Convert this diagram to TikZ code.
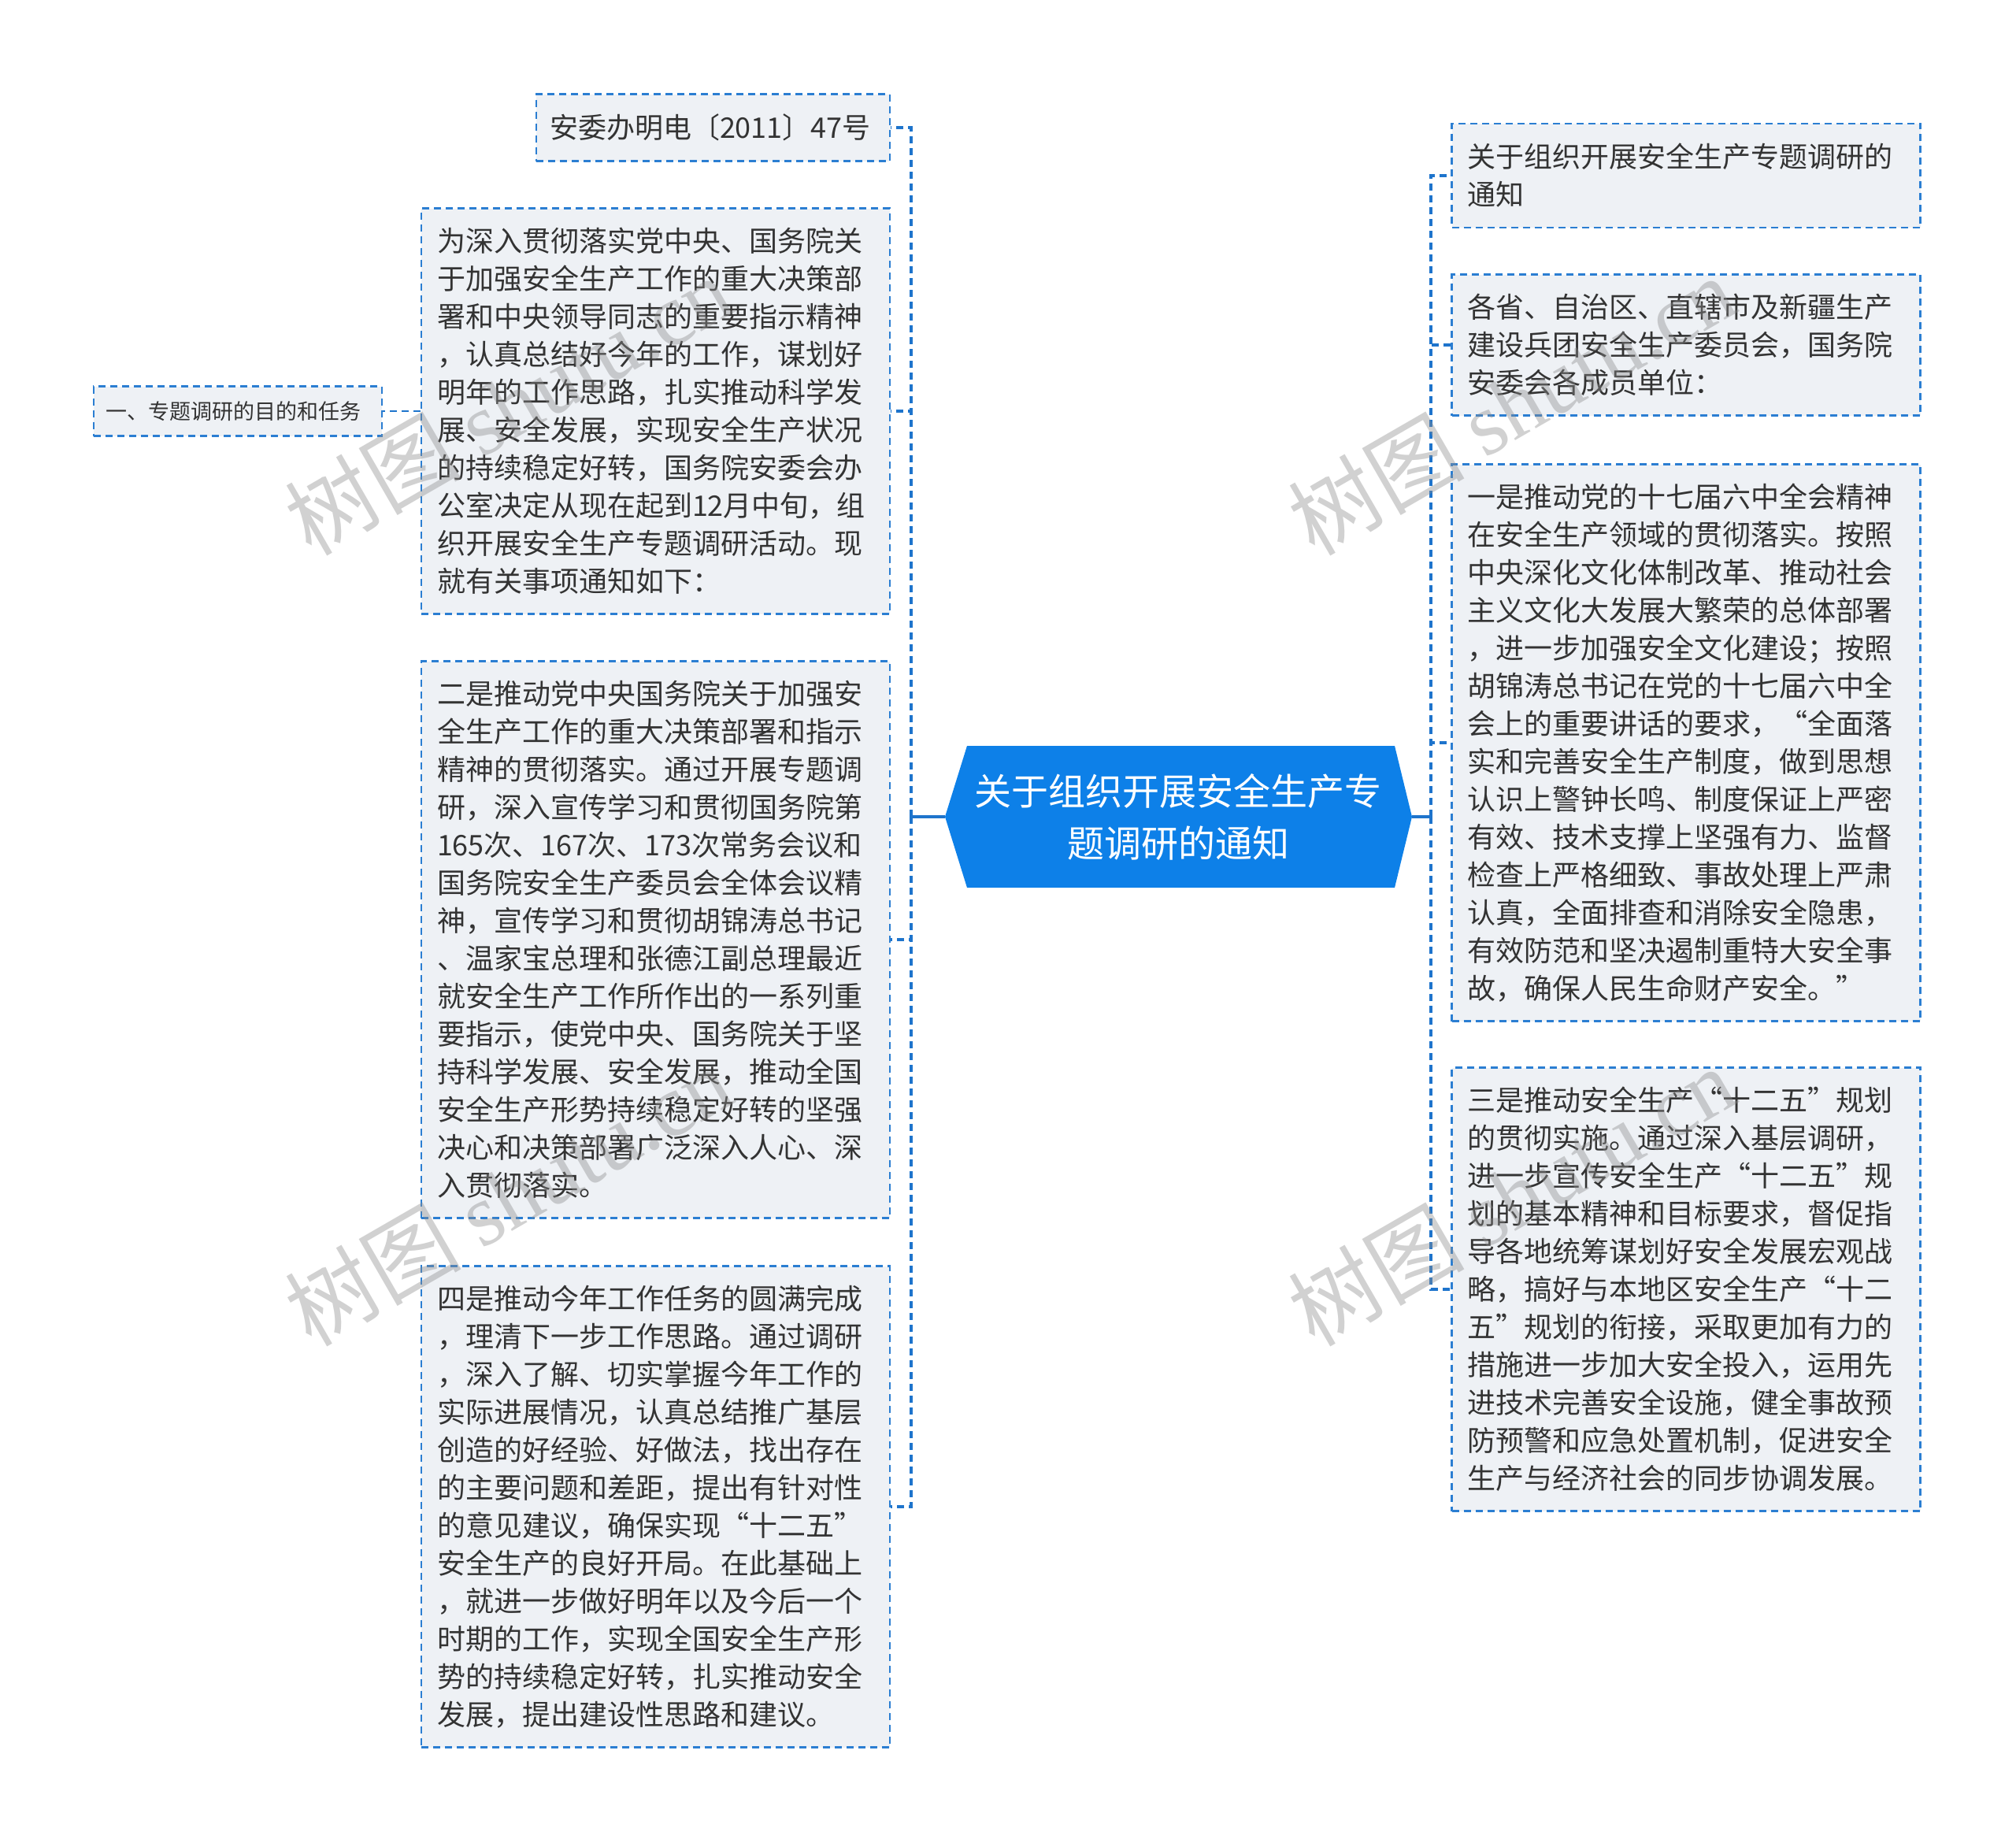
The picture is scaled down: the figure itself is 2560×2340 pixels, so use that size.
\documentclass[tikz,border=0pt]{standalone}
\usepackage{fontspec}
\setmainfont{Noto Sans CJK SC}
\newfontfamily\wmserif{Liberation Serif}
\definecolor{boxfill}{HTML}{EEF1F5}
\definecolor{lineblue}{HTML}{2B7ED2}
\definecolor{busblue}{HTML}{1E74CC}
\definecolor{ctrblue}{HTML}{0D80E8}
\definecolor{txt}{HTML}{333333}
\tikzset{
  leaf/.style={draw=lineblue, fill=boxfill, line width=2.5pt, dash pattern=on 9pt off 6pt,
    text=txt, align=left, inner xsep=20pt, inner ysep=0pt, text width=555pt,
    font=\fontsize{36}{48}\selectfont},
  bus/.style={draw=busblue, line width=3.5pt, dash pattern=on 9pt off 6pt},
  stem/.style={draw=busblue, line width=3.5pt},
  ctrtext/.style={text=white, align=center, font=\fontsize{47}{66}\selectfont, inner sep=0pt},
  wm/.style={rotate=30, text=black!45, text opacity=0.4, font=\fontsize{112}{112}\selectfont, inner sep=0pt}
}
\begin{document}
\begin{tikzpicture}[x=1pt,y=-1pt]
\useasboundingbox (0,0) rectangle (2560,2340);
\fill[white] (0,0) rectangle (2560,2340);

% centre
\fill[ctrblue] (1228,947) -- (1771,947) -- (1793,1037) -- (1771,1127) -- (1228,1127) -- (1200,1037) -- cycle;
\node[ctrtext] (ctr) at (1496,1037) {关于组织开展安全生产专\\题调研的通知};
\coordinate (cl) at (1200,1037);
\coordinate (cr) at (1793,1037);
\coordinate (lbus) at (1157,1037);
\coordinate (rbus) at (1817,1037);

% left side
\node[leaf, text width=415pt, inner xsep=17pt, minimum height=85pt] (A) at (905.5,162) {安委办明电〔2011〕47号};
\node[leaf, minimum height=515pt] (B) at (832.5,522) {为深入贯彻落实党中央、国务院关\\于加强安全生产工作的重大决策部\\署和中央领导同志的重要指示精神\\，认真总结好今年的工作，谋划好\\明年的工作思路，扎实推动科学发\\展、安全发展，实现安全生产状况\\的持续稳定好转，国务院安委会办\\公室决定从现在起到12月中旬，组\\织开展安全生产专题调研活动。现\\就有关事项通知如下：};
\node[leaf, text width=336pt, inner xsep=15pt, minimum height=63pt, font=\fontsize{27}{36}\selectfont] (C) at (302,522) {一、专题调研的目的和任务};
\node[leaf, minimum height=707pt] (D) at (832.5,1193) {二是推动党中央国务院关于加强安\\全生产工作的重大决策部署和指示\\精神的贯彻落实。通过开展专题调\\研，深入宣传学习和贯彻国务院第\\165次、167次、173次常务会议和\\国务院安全生产委员会全体会议精\\神，宣传学习和贯彻胡锦涛总书记\\、温家宝总理和张德江副总理最近\\就安全生产工作所作出的一系列重\\要指示，使党中央、国务院关于坚\\持科学发展、安全发展，推动全国\\安全生产形势持续稳定好转的坚强\\决心和决策部署广泛深入人心、深\\入贯彻落实。};
\node[leaf, minimum height=611pt] (E) at (832.5,1913) {四是推动今年工作任务的圆满完成\\，理清下一步工作思路。通过调研\\，深入了解、切实掌握今年工作的\\实际进展情况，认真总结推广基层\\创造的好经验、好做法，找出存在\\的主要问题和差距，提出有针对性\\的意见建议，确保实现“十二五”\\安全生产的良好开局。在此基础上\\，就进一步做好明年以及今后一个\\时期的工作，实现全国安全生产形\\势的持续稳定好转，扎实推动安全\\发展，提出建设性思路和建议。};

% right side
\node[leaf, minimum height=132pt] (F) at (2141,223) {关于组织开展安全生产专题调研的\\通知};
\node[leaf, minimum height=179pt] (G) at (2141,438) {各省、自治区、直辖市及新疆生产\\建设兵团安全生产委员会，国务院\\安委会各成员单位：};
\node[leaf, minimum height=707pt] (H) at (2141,943) {一是推动党的十七届六中全会精神\\在安全生产领域的贯彻落实。按照\\中央深化文化体制改革、推动社会\\主义文化大发展大繁荣的总体部署\\，进一步加强安全文化建设；按照\\胡锦涛总书记在党的十七届六中全\\会上的重要讲话的要求，“全面落\\实和完善安全生产制度，做到思想\\认识上警钟长鸣、制度保证上严密\\有效、技术支撑上坚强有力、监督\\检查上严格细致、事故处理上严肃\\认真，全面排查和消除安全隐患，\\有效防范和坚决遏制重特大安全事\\故，确保人民生命财产安全。”};
\node[leaf, minimum height=563pt] (I) at (2141,1637) {三是推动安全生产“十二五”规划\\的贯彻实施。通过深入基层调研，\\进一步宣传安全生产“十二五”规\\划的基本精神和目标要求，督促指\\导各地统筹谋划好安全发展宏观战\\略，搞好与本地区安全生产“十二\\五”规划的衔接，采取更加有力的\\措施进一步加大安全投入，运用先\\进技术完善安全设施，健全事故预\\防预警和应急处置机制，促进安全\\生产与经济社会的同步协调发展。};

% connectors
\draw[stem] (cl) -- (lbus);
\draw[stem] (cr) -- (rbus);
\draw[bus] (lbus) |- (A.east);
\draw[bus] (lbus) |- (B.east);
\draw[bus] (lbus) |- (D.east);
\draw[bus] (lbus) |- (E.east);
\draw[bus] (rbus) |- (F.west);
\draw[bus] (rbus) |- (G.west);
\draw[bus] (rbus) |- (H.west);
\draw[bus] (rbus) |- (I.west);
\draw[bus, line width=2.5pt] (B.west) -- (C.east);

% watermarks
\node[wm] (w1) at (645,514) {树图 {\wmserif shutu.cn}};
\node[wm] (w2) at (1919,514) {树图 {\wmserif shutu.cn}};
\node[wm] (w3) at (645,1518) {树图 {\wmserif shutu.cn}};
\node[wm] (w4) at (1919,1518) {树图 {\wmserif shutu.cn}};
\end{tikzpicture}
\end{document}
